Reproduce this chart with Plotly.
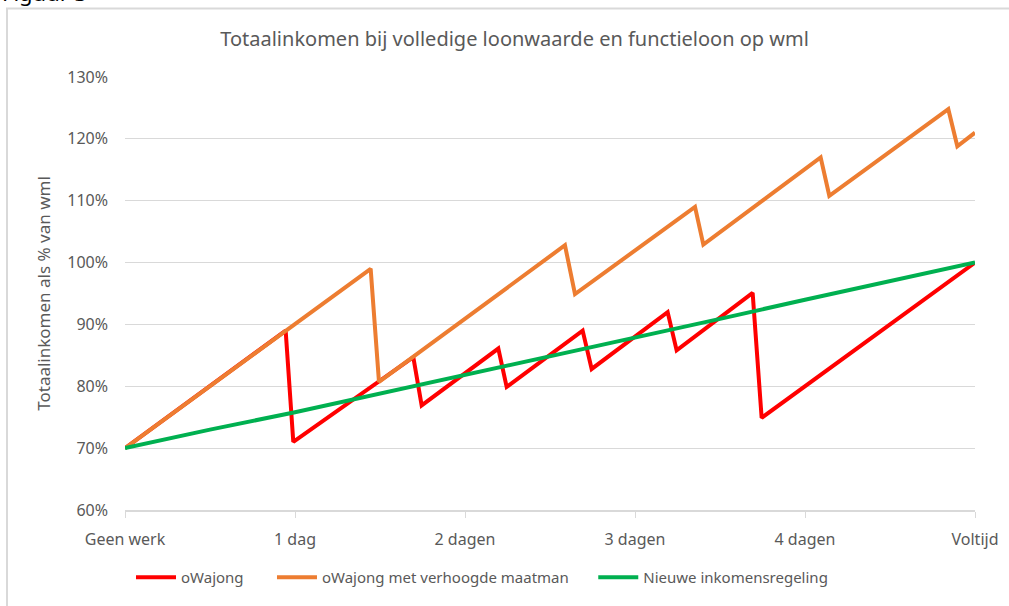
import plotly.graph_objects as go

# x in dagen (0 = geen werk, 5 = voltijd), y in % van wml
tick_vals = [0, 1, 2, 3, 4, 5]
tick_text = ['Geen werk', '1 dag', '2 dagen', '3 dagen', '4 dagen', 'Voltijd']

owajong_x = [0, 0.945, 0.99, 1.696, 1.745, 2.196, 2.245, 2.692, 2.745, 3.192, 3.245, 3.692, 3.745, 5]
owajong_y = [70, 89.0, 71.0, 84.7, 76.9, 86.1, 79.9, 89.0, 82.8, 92.0, 85.8, 95.1, 74.9, 100]

maatman_x = [0, 1.445, 1.494, 2.588, 2.647, 3.353, 3.402, 4.092, 4.143, 4.843, 4.896, 5]
maatman_y = [70, 99.0, 80.7, 102.8, 94.9, 109.0, 102.9, 117.0, 110.8, 124.8, 118.8, 121.0]

nieuw_x = [0, 0.5, 1, 1.5, 2, 2.5, 3, 3.5, 4, 4.5, 5]
nieuw_y = [70, 73.0, 75.8, 78.8, 81.8, 84.8, 87.9, 90.9, 94.0, 97.0, 100]

grey = '#595959'
font = 'Noto Sans'
nb = '\u00a0'

fig = go.Figure()
fig.add_trace(go.Scatter(x=owajong_x, y=owajong_y, mode='lines', name='oWajong' + nb * 6,
                         line=dict(color='#FF0000', width=4)))
fig.add_trace(go.Scatter(x=maatman_x, y=maatman_y, mode='lines', name='oWajong met verhoogde maatman' + nb * 5,
                         line=dict(color='#ED7D31', width=4)))
fig.add_trace(go.Scatter(x=nieuw_x, y=nieuw_y, mode='lines', name='Nieuwe inkomensregeling',
                         line=dict(color='#00B050', width=4)))

fig.update_layout(
    template='none',
    width=1009, height=606,
    margin=dict(l=125, r=34, t=77, b=92, pad=0),
    paper_bgcolor='white', plot_bgcolor='white',
    font=dict(family=font, size=16, color=grey),
    title=dict(text='Totaalinkomen bij volledige loonwaarde en functieloon op wml',
               x=0.51, xanchor='center', y=0.935, yanchor='middle',
               font=dict(size=20, color=grey)),
    showlegend=True,
    legend=dict(orientation='h', x=0.42, xanchor='center', y=-0.118, yanchor='top',
                font=dict(size=15, color=grey), itemwidth=40, tracegroupgap=0,
                bgcolor='rgba(0,0,0,0)'),
)

fig.update_xaxes(
    range=[0, 5], tickvals=tick_vals, ticktext=tick_text,
    showgrid=False, showline=True, linecolor='#d9d9d9', linewidth=2,
    ticks='outside', ticklen=6, tickcolor='#d9d9d9', tickwidth=1,
    ticklabelstandoff=8,
    zeroline=False, automargin=False,
)
fig.update_yaxes(
    range=[60, 130], dtick=10, ticksuffix='%',
    showgrid=True, gridcolor='#d9d9d9', gridwidth=1,
    zeroline=False, showline=False, ticks='', ticklabelstandoff=16, automargin=False,
    title=dict(text='Totaalinkomen als % van wml', font=dict(size=17, color=grey), standoff=12),
)

# kader rond de figuur
fig.add_shape(type='rect', xref='paper', yref='paper',
              x0=-0.1388, x1=1.047, y0=-0.243, y1=1.158,
              line=dict(color='#d9d9d9', width=2), layer='below')

fig.add_annotation(text='Figuur 3', xref='paper', yref='paper',
                   x=-0.147, y=1.158, xanchor='left', yanchor='bottom',
                   showarrow=False, font=dict(size=22, color='#000000'))

fig.write_html('out.html', config={'displayModeBar': False},
               post_script="document.body.style.margin='0';")
